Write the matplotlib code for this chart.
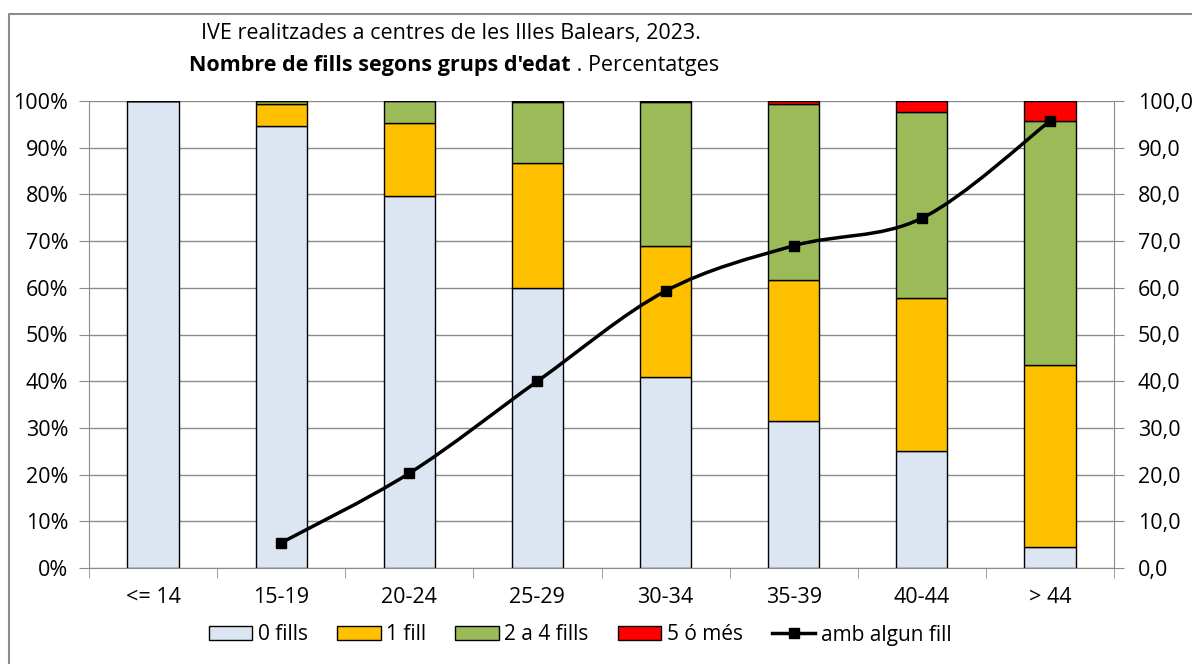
import numpy as np
import matplotlib
matplotlib.use("Agg")
import matplotlib.pyplot as plt
from matplotlib.path import Path
from matplotlib.patches import PathPatch
from matplotlib.lines import Line2D
from matplotlib.ticker import FuncFormatter, FixedLocator

plt.rcParams['font.family'] = ['Open Sans', 'Noto Sans', 'DejaVu Sans']

grups = ['<= 14', '15-19', '20-24', '25-29', '30-34', '35-39', '40-44', '> 44']
cap_fill = [100.0, 94.6, 79.7, 60.0, 40.9, 31.5, 25.1, 4.5]
un_fill = [0.0, 4.7, 15.6, 26.7, 28.1, 30.2, 32.7, 39.0]
dos_a_quatre = [0.0, 0.6, 4.6, 13.1, 30.8, 37.7, 39.8, 52.2]
cinc_o_mes = [0.0, 0.1, 0.1, 0.2, 0.2, 0.6, 2.4, 4.3]
amb_algun = [None, 5.4, 20.3, 40.0, 59.3, 69.0, 74.9, 95.7]

series = [('0 fills', cap_fill, '#DCE6F2'),
          ('1 fill', un_fill, '#FFC000'),
          ('2 a 4 fills', dos_a_quatre, '#9BBB59'),
          ('5 ó més', cinc_o_mes, '#FF0000')]

grey = '#8C8C8C'
fs = 15.5

fig = plt.figure(figsize=(11.92, 6.64), dpi=100)
ax = fig.add_axes([89 / 1192, 1 - 568 / 664, 1025 / 1192, 467 / 664])
x = np.arange(len(grups))

bottom = np.zeros(len(grups))
for name, vals, col in series:
    v = np.array(vals) / 100
    ax.bar(x, v, 0.4, bottom=bottom, color=col, edgecolor='black', linewidth=1, label=name, zorder=3)
    bottom += v

ax.set_xlim(-0.5, len(grups) - 0.5)
ax.set_ylim(0, 1)
ax.set_yticks(np.arange(0, 1.01, 0.1))
ax.yaxis.set_major_formatter(FuncFormatter(lambda v, p: f'{v * 100:.0f}%'))
ax.set_xticks(x)
ax.set_xticklabels(grups)
ax.xaxis.set_minor_locator(FixedLocator(np.arange(-0.5, len(grups), 1)))
ax.tick_params(axis='x', which='major', length=0, pad=14, labelsize=fs)
ax.tick_params(axis='x', which='minor', length=7, color=grey, direction='out')
ax.tick_params(axis='y', length=7, color=grey, labelsize=fs, pad=8)
ax.grid(axis='y', color=grey, linewidth=1, zorder=0)
ax.set_axisbelow(True)
for s in ['left', 'bottom', 'right']:
    ax.spines[s].set_color(grey)
ax.spines['top'].set_visible(False)

ax2 = ax.twinx()
ax2.set_ylim(0, 100)
ax2.set_yticks(np.arange(0, 101, 10))
ax2.yaxis.set_major_formatter(FuncFormatter(lambda v, p: f'{v:.1f}'.replace('.', ',')))
ax2.tick_params(axis='y', length=7, color=grey, labelsize=fs, pad=10)
for s in ['left', 'bottom', 'right', 'top']:
    ax2.spines[s].set_visible(False)

# linia suavitzada (com Excel)
pts = [(xi, yi) for xi, yi in zip(x, amb_algun) if yi is not None]
P = np.array(pts, dtype=float)
verts = [P[0]]
codes = [Path.MOVETO]
for i in range(len(P) - 1):
    p0 = P[i - 1] if i > 0 else P[i]
    p3 = P[i + 2] if i + 2 < len(P) else P[i + 1]
    c1 = P[i] + (P[i + 1] - p0) / 6
    c2 = P[i + 1] - (p3 - P[i]) / 6
    verts += [c1, c2, P[i + 1]]
    codes += [Path.CURVE4] * 3
ax2.add_patch(PathPatch(Path(verts, codes), fill=False, edgecolor='black', linewidth=2.5, zorder=4))
ax2.plot(P[:, 0], P[:, 1], linestyle='none', marker='s', markersize=7, color='black', zorder=5)

handles = [plt.Rectangle((0, 0), 1, 1, facecolor=c, edgecolor='black', linewidth=1) for _, _, c in series]
handles.append(Line2D([], [], color='black', linewidth=2.5, marker='s', markersize=7))
labels = [s[0] for s in series] + ['amb algun fill']
fig.legend(handles, labels, loc='center', bbox_to_anchor=(580 / 1192, 1 - 635 / 664), ncol=5,
           frameon=False, fontsize=15, handlelength=2.1, handleheight=0.62, handletextpad=0.25,
           columnspacing=1.4)

# titol
fig.text(451 / 1192, 1 - 33 / 664, 'IVE realitzades a centres de les Illes Balears, 2023.',
         ha='center', va='center', fontsize=fs)
t1 = fig.text(0, 1 - 65 / 664, "Nombre de fills segons grups d'edat", fontweight='bold',
              ha='left', va='center', fontsize=fs)
t2 = fig.text(0, 1 - 65 / 664, ' . Percentatges', ha='left', va='center', fontsize=fs)
r = fig.canvas.get_renderer()
w1 = t1.get_window_extent(r).width
w2 = t2.get_window_extent(r).width
x0 = 454 - (w1 + w2) / 2
t1.set_x(x0 / 1192)
t2.set_x((x0 + w1) / 1192)

# marc
fig.add_artist(Line2D([9 / 1192, 9 / 1192, 1], [0, 1 - 14 / 664, 1 - 14 / 664],
                      transform=fig.transFigure, color=grey, linewidth=1.5))

fig.savefig('out.png', dpi=100)
